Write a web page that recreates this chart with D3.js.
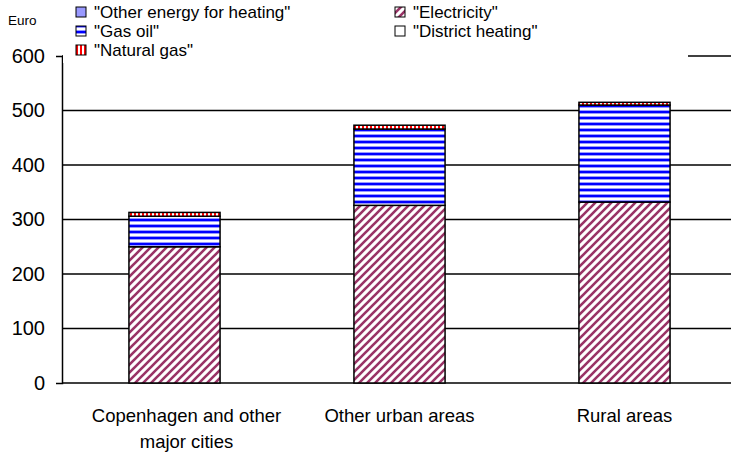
<!DOCTYPE html>
<html lang="en">
<head>
  <meta charset="UTF-8">
  <script src="https://cdn.jsdelivr.net/npm/d3@7"></script>
  <style>
    body { margin: 0; background: #fff; }
    text { font-family: Arial, "Liberation Sans", sans-serif; }
  </style>
</head>
<body>
  <svg width="731" height="457"></svg>
  <script>
    // data
    var categories = [["Copenhagen and other", "major cities"], ["Other urban areas"], ["Rural areas"]];
    var electricity = [250, 326, 332];
    var gasOil = [56, 140, 178];
    var naturalGas = [7, 7, 5];
    var districtHeating = [0, 0, 0];
    var otherEnergy = [0, 0, 0];
    var yTicks = [0, 100, 200, 300, 400, 500, 600];

    var seriesNames = ['"Electricity"', '"Gas oil"', '"Natural gas"', '"District heating"', '"Other energy for heating"'];
    var seriesValues = [electricity, gasOil, naturalGas, districtHeating, otherEnergy];
    var seriesFill = ["url(#pElec)", "url(#pGas)", "url(#pNat)", "#ffffff", "#9999ff"];

    var svg = d3.select("svg");
    var marge = {top: 56, left: 62, bottom: 74};
    var plotH = 457 - marge.top - marge.bottom;
    var plotW = 675;

    // patterns
    var defs = svg.append("defs");
    var pe = defs.append("pattern").attr("id", "pElec").attr("patternUnits", "userSpaceOnUse")
      .attr("width", 8).attr("height", 8);
    pe.append("rect").attr("width", 8).attr("height", 8).attr("fill", "#fff");
    pe.append("path").attr("d", "M-2,2 L2,-2 M0,8 L8,0 M6,10 L10,6")
      .attr("stroke", "#993366").attr("stroke-width", 2.6);
    var pg = defs.append("pattern").attr("id", "pGas").attr("patternUnits", "userSpaceOnUse")
      .attr("width", 6).attr("height", 6);
    pg.append("rect").attr("width", 6).attr("height", 6).attr("fill", "#fff");
    pg.append("rect").attr("y", 0).attr("width", 6).attr("height", 1).attr("fill", "#9999ff");
    pg.append("rect").attr("y", 1).attr("width", 6).attr("height", 2).attr("fill", "#0000ff");
    pg.append("rect").attr("y", 3).attr("width", 6).attr("height", 1).attr("fill", "#9999ff");
    var pn = defs.append("pattern").attr("id", "pNat").attr("patternUnits", "userSpaceOnUse")
      .attr("width", 4).attr("height", 4);
    pn.append("rect").attr("width", 4).attr("height", 4).attr("fill", "#fff");
    pn.append("rect").attr("width", 2).attr("height", 4).attr("fill", "#ff0000");

    var g = svg.append("g").attr("transform", "translate(" + marge.left + "," + marge.top + ")");

    var x = d3.scaleBand().domain(d3.range(categories.length)).range([0, plotW]);
    var y = d3.scaleLinear().domain([0, 600]).range([plotH, 0]);

    // gridlines
    g.selectAll(".grid").data(yTicks).enter().append("line")
      .attr("x1", 0).attr("x2", 731 - marge.left)
      .attr("y1", function(d){ return y(d); }).attr("y2", function(d){ return y(d); })
      .attr("stroke", "#000").attr("stroke-width", 1.5);

    // stacked bars
    var stackData = categories.map(function(c, i) {
      var o = {};
      seriesValues.forEach(function(s, k){ o[k] = s[i]; });
      return o;
    });
    var stack = d3.stack().keys(d3.range(seriesValues.length))(stackData);
    var barW = x.bandwidth() * 0.405;
    stack.forEach(function(layer, k) {
      g.selectAll(".s" + k).data(layer).enter().append("rect")
        .filter(function(d){ return d[1] - d[0] > 0; })
        .attr("x", function(d, i){ return x(i) + (x.bandwidth() - barW) / 2; })
        .attr("y", function(d){ return y(d[1]); })
        .attr("width", barW)
        .attr("height", function(d){ return y(d[0]) - y(d[1]); })
        .attr("fill", seriesFill[k])
        .attr("stroke", "#000").attr("stroke-width", 1.5);
    });

    // legend (white box over the top gridline)
    var leg = svg.append("g");
    leg.append("rect").attr("x", 63).attr("y", 0).attr("width", 625).attr("height", 63).attr("fill", "#fff");
    var legItems = [
      {k: 4, col: 0, row: 0}, {k: 1, col: 0, row: 1}, {k: 2, col: 0, row: 2},
      {k: 0, col: 1, row: 0}, {k: 3, col: 1, row: 1}
    ];
    legItems.forEach(function(it) {
      var lx = it.col === 0 ? 76 : 395;
      var ly = 12 + it.row * 19;
      leg.append("rect").attr("x", lx).attr("y", ly - 5).attr("width", 10).attr("height", 10)
        .attr("fill", seriesFill[it.k]).attr("stroke", "#000").attr("stroke-width", 1);
      leg.append("text").attr("x", lx + 18).attr("y", ly + 6)
        .attr("font-size", 17).text(seriesNames[it.k]);
    });

    // y axis
    var yAxis = d3.axisLeft(y).tickValues(yTicks).tickSizeInner(0).tickSizeOuter(6).tickPadding(17);
    var ya = g.append("g").call(yAxis);
    ya.select(".domain").attr("stroke-width", 1.5);
    ya.selectAll("text").attr("font-size", 20).attr("font-family", "Arial, 'Liberation Sans', sans-serif").attr("fill", "#000");

    svg.append("text").attr("x", 8).attr("y", 25).attr("font-size", 13.5).text("Euro");

    // x labels
    var xl = g.selectAll(".xl").data(categories).enter().append("text")
      .attr("text-anchor", "middle")
      .attr("font-size", 18.5)
      .attr("transform", function(d, i){
        var shift = d.length > 1 ? 12 : 0;
        return "translate(" + (x(i) + x.bandwidth() / 2 + shift) + "," + (plotH + 39) + ")";
      });
    xl.selectAll("tspan").data(function(d){ return d; }).enter().append("tspan")
      .attr("x", 0).attr("dy", function(d, i){ return i === 0 ? 0 : 26; })
      .text(function(d){ return d; });
  </script>
</body>
</html>
